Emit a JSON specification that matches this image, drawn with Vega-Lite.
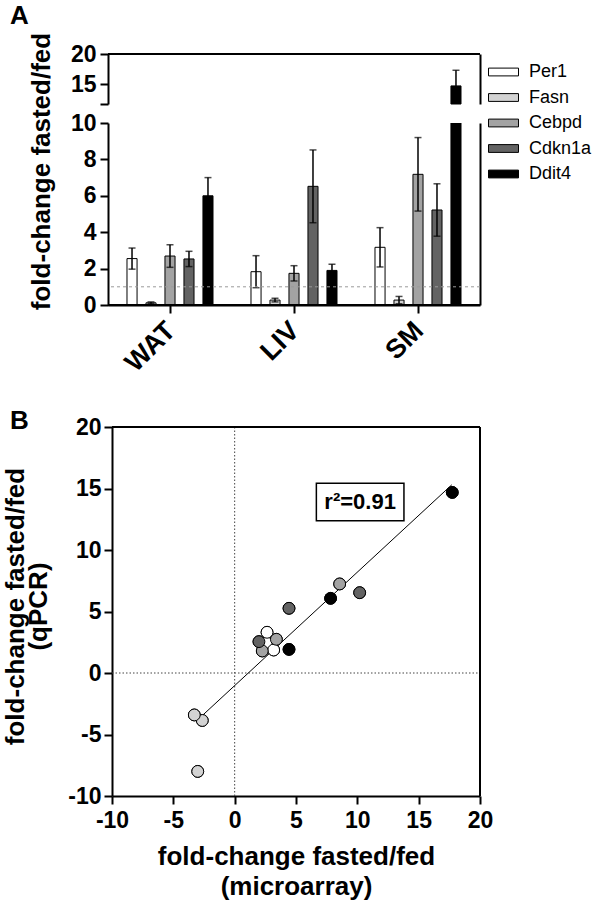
{
  "$schema": "https://vega.github.io/schema/vega-lite/v6.json",
  "autosize": {"type": "none"},
  "padding": {"left": 108, "top": 54, "right": 492, "bottom": 853},
  "background": "white",
  "config": {
    "font": "Liberation Sans",
    "view": {"stroke": null},
    "axis": {"domainColor": "black", "domainWidth": 2, "tickColor": "black", "tickWidth": 2, "tickSize": 8, "labelFont": "Liberation Sans", "labelFontWeight": "bold", "labelFontSize": 23, "labelColor": "black", "labelPadding": 4, "labelFlush": false, "titleFont": "Liberation Sans", "titleFontWeight": "bold", "titleFontSize": 26, "titleColor": "black", "grid": false},
    "title": {"font": "Liberation Sans", "fontWeight": "bold", "fontSize": 26, "color": "black", "anchor": "start", "frame": "group", "baseline": "alphabetic"}
  },
  "datasets": {
    "bars": [
      {"tissue": "WAT", "gene": "Per1", "value": 2.55, "err": 0.58},
      {"tissue": "WAT", "gene": "Fasn", "value": 0.12, "err": 0.05},
      {"tissue": "WAT", "gene": "Cebpd", "value": 2.69, "err": 0.62},
      {"tissue": "WAT", "gene": "Cdkn1a", "value": 2.53, "err": 0.42},
      {"tissue": "WAT", "gene": "Ddit4", "value": 6.0, "err": 1.0},
      {"tissue": "LIV", "gene": "Per1", "value": 1.83, "err": 0.88},
      {"tissue": "LIV", "gene": "Fasn", "value": 0.27, "err": 0.1},
      {"tissue": "LIV", "gene": "Cebpd", "value": 1.74, "err": 0.42},
      {"tissue": "LIV", "gene": "Cdkn1a", "value": 6.52, "err": 2.0},
      {"tissue": "LIV", "gene": "Ddit4", "value": 1.9, "err": 0.34},
      {"tissue": "SM", "gene": "Per1", "value": 3.17, "err": 1.08},
      {"tissue": "SM", "gene": "Fasn", "value": 0.27, "err": 0.2},
      {"tissue": "SM", "gene": "Cebpd", "value": 7.18, "err": 2.02},
      {"tissue": "SM", "gene": "Cdkn1a", "value": 5.22, "err": 1.44},
      {"tissue": "SM", "gene": "Ddit4", "value": 14.7, "err": 2.6}
    ],
    "points": [
      {"gene": "Per1", "tissue": "WAT", "microarray": 2.58, "qpcr": 2.47},
      {"gene": "Per1", "tissue": "LIV", "microarray": 3.18, "qpcr": 1.87},
      {"gene": "Per1", "tissue": "SM", "microarray": 2.64, "qpcr": 3.31},
      {"gene": "Fasn", "tissue": "WAT", "microarray": -3.01, "qpcr": -8.0},
      {"gene": "Fasn", "tissue": "LIV", "microarray": -2.64, "qpcr": -3.86},
      {"gene": "Fasn", "tissue": "SM", "microarray": -3.29, "qpcr": -3.41},
      {"gene": "Cebpd", "tissue": "WAT", "microarray": 3.4, "qpcr": 2.74},
      {"gene": "Cebpd", "tissue": "LIV", "microarray": 2.25, "qpcr": 1.79},
      {"gene": "Cebpd", "tissue": "SM", "microarray": 8.56, "qpcr": 7.24},
      {"gene": "Cdkn1a", "tissue": "WAT", "microarray": 1.98, "qpcr": 2.55},
      {"gene": "Cdkn1a", "tissue": "LIV", "microarray": 10.19, "qpcr": 6.53},
      {"gene": "Cdkn1a", "tissue": "SM", "microarray": 4.43, "qpcr": 5.26},
      {"gene": "Ddit4", "tissue": "WAT", "microarray": 7.82, "qpcr": 6.07},
      {"gene": "Ddit4", "tissue": "LIV", "microarray": 4.43, "qpcr": 1.92},
      {"gene": "Ddit4", "tissue": "SM", "microarray": 17.74, "qpcr": 14.68}
    ],
    "fit": [
      {"microarray": -2.9, "qpcr": -3.7},
      {"microarray": 17.7, "qpcr": 15.3}
    ],
    "annot": [
      {"x1": 6.66, "x2": 13.8, "y1": 12.38, "y2": 15.42, "xc": 10.23, "yc": 13.9, "label": "r²=0.91"}
    ]
  },
  "vconcat": [
    {
      "width": 372,
      "height": 50,
      "title": {"text": "A", "dx": -98, "offset": 14},
      "data": {"name": "bars"},
      "transform": [{"filter": "datum.value > 11.7"}],
      "layer": [
        {
          "mark": {"type": "bar", "stroke": "black", "strokeWidth": 1},
          "encoding": {
            "x": {"field": "tissue", "type": "nominal", "scale": {"domain": ["WAT", "LIV", "SM"], "paddingInner": 0, "paddingOuter": 0}, "axis": null},
            "xOffset": {"field": "gene", "type": "nominal", "scale": {"domain": ["Per1", "Fasn", "Cebpd", "Cdkn1a", "Ddit4"], "paddingInner": 0.47, "paddingOuter": 1}},
            "y": {"field": "value", "type": "quantitative", "scale": {"domain": [11.7, 20], "nice": false, "zero": false}, "axis": {"values": [11.7, 15, 20], "labelExpr": "datum.value >= 15 ? datum.label : ''", "title": null}},
            "y2": {"datum": 11.7},
            "fill": {"field": "gene", "type": "nominal", "scale": {"domain": ["Per1", "Fasn", "Cebpd", "Cdkn1a", "Ddit4"], "range": ["#ffffff", "#d3d3d3", "#a3a3a3", "#636363", "#000000"]}, "legend": null}
          }
        },
        {
          "mark": {"type": "errorbar", "ticks": {"size": 7, "thickness": 1.5, "color": "black"}, "rule": {"strokeWidth": 1.5, "color": "black"}},
          "encoding": {
            "x": {"field": "tissue", "type": "nominal"},
            "xOffset": {"field": "gene", "type": "nominal"},
            "y": {"field": "value", "type": "quantitative", "axis": null},
            "yError": {"field": "err"}
          }
        },
        {
          "data": {"values": [{}]},
          "mark": {"type": "rule", "strokeWidth": 2, "color": "black"},
          "encoding": {"y": {"datum": 20, "type": "quantitative", "axis": {"orient": "right", "labels": false, "ticks": false, "title": null}}}
        }
      ],
      "resolve": {"axis": {"y": "independent"}}
    },
    {
      "width": 372,
      "height": 182,
      "data": {"name": "bars"},
      "layer": [
        {
          "mark": {"type": "bar", "stroke": "black", "strokeWidth": 1, "clip": true},
          "encoding": {
            "x": {"field": "tissue", "type": "nominal", "scale": {"domain": ["WAT", "LIV", "SM"], "paddingInner": 0, "paddingOuter": 0}, "axis": {"labelAngle": 315, "labelFontSize": 27, "title": null, "labelPadding": 4, "labelOffset": -8}},
            "xOffset": {"field": "gene", "type": "nominal", "scale": {"domain": ["Per1", "Fasn", "Cebpd", "Cdkn1a", "Ddit4"], "paddingInner": 0.47, "paddingOuter": 1}},
            "y": {"field": "value", "type": "quantitative", "scale": {"domain": [0, 10], "nice": false}, "axis": {"values": [0, 2, 4, 6, 8, 10], "title": "fold-change fasted/fed", "titleX": -54, "titleY": 48, "titleBaseline": "bottom", "titleAngle": 270, "titleAlign": "center"}},
            "fill": {"field": "gene", "type": "nominal", "scale": {"domain": ["Per1", "Fasn", "Cebpd", "Cdkn1a", "Ddit4"], "range": ["#ffffff", "#d3d3d3", "#a3a3a3", "#636363", "#000000"]},
              "legend": {"orient": "none", "legendX": 386.5, "legendY": -60, "title": null, "symbolType": "M-2,-0.52H2V0.52H-2Z", "symbolSize": 225, "symbolStrokeColor": "black", "symbolStrokeWidth": 1, "labelFontSize": 18, "labelFont": "Liberation Sans", "labelFontWeight": "normal", "labelColor": "black", "labelOffset": 16.5, "rowPadding": 7.5, "padding": 0}}
          }
        },
        {
          "transform": [{"filter": "datum.value <= 10"}],
          "mark": {"type": "errorbar", "ticks": {"size": 7, "thickness": 1.5, "color": "black"}, "rule": {"strokeWidth": 1.5, "color": "black"}},
          "encoding": {
            "x": {"field": "tissue", "type": "nominal"},
            "xOffset": {"field": "gene", "type": "nominal"},
            "y": {"field": "value", "type": "quantitative", "axis": null},
            "yError": {"field": "err"}
          }
        },
        {
          "data": {"values": [{}]},
          "mark": {"type": "rule", "color": "#9a9a9a", "strokeDash": [3, 3], "strokeWidth": 1},
          "encoding": {"y": {"datum": 1, "type": "quantitative", "axis": null}}
        },
        {
          "data": {"values": [{}]},
          "mark": {"type": "rule", "strokeWidth": 2, "color": "black"},
          "encoding": {"y": {"datum": 0, "type": "quantitative", "axis": {"orient": "right", "labels": false, "ticks": false, "title": null}}}
        }
      ],
      "resolve": {"axis": {"y": "independent"}}
    },
    {
      "width": 372,
      "height": 472,
      "title": {"text": "B", "dx": -98, "offset": -110},
      "layer": [
        {
          "data": {"name": "points"},
          "mark": {"type": "circle", "size": 140, "stroke": "black", "strokeWidth": 1, "opacity": 1},
          "encoding": {
            "x": {"field": "microarray", "type": "quantitative", "scale": {"domain": [-10, 20], "range": [4, 372], "nice": false, "zero": false},
              "axis": {"values": [-10, -5, 0, 5, 10, 15, 20], "labelExpr": "'' + datum.value", "labelFontSize": 23, "labelPadding": 5, "labelFlush": false, "title": ["fold-change fasted/fed", "(microarray)"], "titleBaseline": "alphabetic", "titleY": 68, "titleLineHeight": 30}},
            "y": {"field": "qpcr", "type": "quantitative", "scale": {"domain": [-10, 20], "range": [472, 103], "nice": false, "zero": false},
              "axis": {"values": [-10, -5, 0, 5, 10, 15, 20], "labelExpr": "'' + datum.value", "offset": -4, "labelFontSize": 23, "labelPadding": 3, "labelFlush": false, "title": ["fold-change fasted/fed", "(qPCR)"], "titleX": -84, "titleY": 282, "titleAngle": 270, "titleBaseline": "bottom", "titleAlign": "center", "titleLineHeight": 23}},
            "fill": {"field": "gene", "type": "nominal", "scale": {"domain": ["Per1", "Fasn", "Cebpd", "Cdkn1a", "Ddit4"], "range": ["#ffffff", "#d3d3d3", "#a3a3a3", "#636363", "#000000"]}, "legend": null}
          }
        },
        {
          "data": {"values": [{}]},
          "mark": {"type": "rule", "color": "#444444", "strokeDash": [1.5, 2], "strokeWidth": 1},
          "encoding": {"x": {"datum": 0, "type": "quantitative"}, "y": {"datum": -10, "type": "quantitative"}, "y2": {"datum": 20}}
        },
        {
          "data": {"values": [{}]},
          "mark": {"type": "rule", "color": "#444444", "strokeDash": [1.5, 2], "strokeWidth": 1},
          "encoding": {"y": {"datum": 0, "type": "quantitative"}, "x": {"datum": -10, "type": "quantitative"}, "x2": {"datum": 20}}
        },
        {
          "data": {"name": "fit"},
          "mark": {"type": "line", "color": "black", "strokeWidth": 1},
          "encoding": {"x": {"field": "microarray", "type": "quantitative"}, "y": {"field": "qpcr", "type": "quantitative"}}
        },
        {
          "data": {"name": "annot"},
          "mark": {"type": "rect", "fill": "white", "stroke": "black", "strokeWidth": 1.5},
          "encoding": {"x": {"field": "x1", "type": "quantitative"}, "x2": {"field": "x2"}, "y": {"field": "y1", "type": "quantitative"}, "y2": {"field": "y2"}}
        },
        {
          "data": {"name": "annot"},
          "mark": {"type": "text", "font": "Liberation Sans", "fontWeight": "bold", "fontSize": 22, "color": "black", "align": "center", "baseline": "middle"},
          "encoding": {"x": {"field": "xc", "type": "quantitative"}, "y": {"field": "yc", "type": "quantitative"}, "text": {"field": "label"}}
        },
        {
          "data": {"name": "points"},
          "mark": {"type": "circle", "size": 140, "stroke": "black", "strokeWidth": 1, "opacity": 1},
          "encoding": {
            "x": {"field": "microarray", "type": "quantitative"},
            "y": {"field": "qpcr", "type": "quantitative"},
            "fill": {"field": "gene", "type": "nominal", "legend": null}
          }
        },
        {
          "data": {"values": [{}]},
          "mark": {"type": "rule", "color": "black", "strokeWidth": 2},
          "encoding": {"y": {"datum": 20, "type": "quantitative"}, "x": {"datum": -10, "type": "quantitative"}, "x2": {"datum": 20}}
        },
        {
          "data": {"values": [{}]},
          "mark": {"type": "rule", "color": "black", "strokeWidth": 2},
          "encoding": {"x": {"datum": 20, "type": "quantitative"}, "y": {"datum": -10, "type": "quantitative"}, "y2": {"datum": 20}}
        }
      ]
    }
  ],
  "spacing": 19,
  "bounds": "flush",
  "resolve": {"legend": {"fill": "independent"}}
}
